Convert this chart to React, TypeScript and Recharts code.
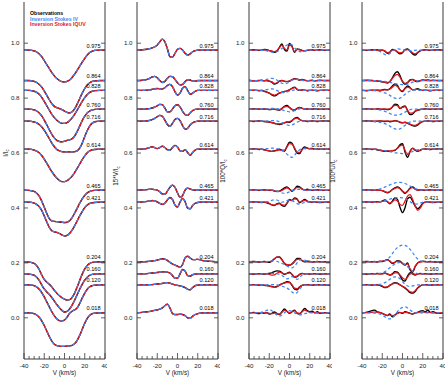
import { LineChart, Line, XAxis, YAxis, ReferenceDot } from 'recharts';

// velocity grid (km/s)
const VELOCITY = [
  -40, -35, -30, -27.5,
  -25, -22.5, -20, -17.5, -15, -12.5, -10, -7.5, -5, -2.5,
  0,
  2.5, 5, 7.5, 10, 12.5, 15, 17.5, 20, 22.5, 25,
  27.5, 30, 35, 40,
];

const PHASES = [0.975, 0.864, 0.828, 0.76, 0.716, 0.614, 0.465, 0.421, 0.204, 0.16, 0.12, 0.018];
const PHASE_LABELS = ['0.975', '0.864', '0.828', '0.760', '0.716', '0.614', '0.465', '0.421', '0.204', '0.160', '0.120', '0.018'];

const X_TICKS = [-40, -35, -30, -25, -20, -15, -10, -5, 0, 5, 10, 15, 20, 25, 30, 35, 40];
const Y_TICKS = [0, 0.2, 0.4, 0.6, 0.8, 1.0];

// profiles, in thousandths of axis units, relative to the phase offset
const I_OBS = [
  [0, 0, -3, -7, -14, -24, -38, -53, -68, -82, -94, -104, -111, -115, -116, -114, -109, -100, -88, -74, -59, -44, -30, -18, -9, -4, -1, 0, 0],
  [0, 0, -3, -7, -14, -24, -38, -54, -70, -84, -94, -99, -102, -106, -111, -116, -118, -114, -103, -86, -66, -46, -29, -16, -8, -3, -1, 0, 0],
  [0, 0, -3, -7, -14, -25, -40, -56, -72, -87, -99, -109, -116, -120, -120, -117, -110, -100, -87, -72, -56, -40, -26, -15, -7, -3, -1, 0, 0],
  [0, 0, -3, -7, -14, -25, -40, -57, -75, -92, -105, -114, -118, -119, -117, -114, -112, -108, -98, -82, -62, -42, -26, -14, -7, -3, -1, 0, 0],
  [0, 0, -3, -6, -12, -21, -33, -48, -64, -80, -93, -103, -108, -111, -112, -112, -112, -112, -111, -108, -98, -80, -56, -34, -17, -7, -2, 0, 0],
  [0, 0, -3, -7, -13, -23, -36, -51, -67, -82, -95, -106, -114, -118, -118, -115, -108, -98, -85, -70, -54, -38, -24, -13, -6, -2, -1, 0, 0],
  [0, -1, -5, -11, -22, -40, -62, -85, -104, -112, -114, -115, -116, -117, -118, -117, -112, -100, -84, -66, -48, -32, -19, -10, -5, -2, -1, 0, 0],
  [0, 0, -3, -8, -16, -30, -50, -72, -92, -104, -108, -110, -114, -119, -123, -121, -114, -102, -86, -68, -50, -34, -20, -10, -4, -2, -1, 0, 0],
  [0, -1, -6, -14, -28, -48, -64, -74, -82, -92, -104, -115, -124, -131, -136, -139, -138, -130, -114, -92, -68, -45, -26, -13, -6, -2, -1, 0, 0],
  [0, -1, -5, -12, -24, -40, -55, -66, -75, -86, -99, -112, -124, -133, -139, -137, -128, -114, -96, -76, -56, -38, -23, -12, -5, -2, -1, 0, 0],
  [0, 0, -3, -8, -16, -28, -44, -62, -80, -98, -113, -124, -130, -131, -128, -118, -104, -96, -91, -84, -68, -48, -30, -16, -7, -3, -1, 0, 0],
  [0, 0, -3, -8, -16, -29, -46, -66, -86, -103, -114, -119, -121, -122, -122, -121, -120, -118, -112, -100, -82, -60, -38, -20, -9, -3, -1, 0, 0],
];

const V_OBS = [
  [0, 1, 3, 5, 8, 12, 18, 30, 40, 30, 5, -24, -26, -12, 3, 6, 0, -12, -18, -14, -6, -2, 0, 0, 0, 0, 0, 0, 0],
  [0, 1, 4, 8, 13, 15, 10, 0, -7, -3, 8, 15, 14, 4, -8, -16, -14, -4, 3, 2, -2, -2, 0, 0, 0, 0, 0, 0, 0],
  [0, 0, 1, 2, 4, 6, 7, 6, 5, 10, 18, 22, 14, -5, -17, -10, 8, 14, 0, -14, -10, -3, 0, 0, 0, 0, 0, 0, 0],
  [0, 0, 1, 2, 4, 7, 12, 17, 16, 4, -10, -10, 0, 12, 16, 8, -8, -20, -23, -14, -5, -1, 0, 0, 0, 0, 0, 0, 0],
  [0, 0, 1, 3, 6, 10, 16, 21, 18, 4, -12, -19, -8, 6, 10, 2, -16, -29, -26, -14, -6, -2, 0, 0, 0, 0, 0, 0, 0],
  [0, 0, 3, 6, 9, 6, 2, 6, 11, 6, -2, -4, 6, 14, 8, -6, -8, -2, -12, -22, -12, -3, 0, 0, 0, 0, 0, 0, 0],
  [0, 1, 2, 3, 3, 2, 0, -6, -14, -15, -4, 10, 18, 10, -10, -26, -20, 0, 7, 4, 1, 0, 0, 0, 0, 0, 0, 0, 0],
  [0, 1, 3, 4, 6, 5, 1, -4, -8, -4, 8, 17, 10, -10, -18, 0, 14, 2, -22, -24, -12, -4, -1, 0, 0, 0, 0, 0, 0],
  [0, 0, 1, 2, 3, 4, 6, 9, 11, 10, 5, -2, -8, -12, -16, -20, -10, 14, 20, 14, 8, 8, 9, 7, 4, 3, 2, 1, 0],
  [0, 0, 1, 2, 3, 4, 5, 6, 7, 7, 6, 3, -6, -16, -16, 0, 16, 10, -6, -8, -3, -1, 0, 0, 0, 0, 0, 0, 0],
  [0, 0, 0, 1, 1, 2, 3, 4, 5, 7, 8, 6, 3, 0, -2, -4, -6, -10, -16, -18, -10, -3, -1, 0, 0, 0, 0, 0, 0],
  [0, 2, 4, 5, 7, 9, 11, 14, 18, 26, 32, 18, -2, -6, -6, -5, -6, -10, -18, -20, -12, -6, -3, -1, 0, 0, 0, 0, 0],
];

const Q_OBS = [
  [0, 1, -1, 0, 2, 1, -2, -4, -8, -4, 10, 22, 2, -4, 24, 14, -8, 4, 2, -2, -3, -1, 0, 1, -1, 0, 1, -1, 0],
  [1, -1, 0, 1, -1, 0, -2, -6, -13, -10, -2, 0, -3, -4, -2, 3, 7, 5, 2, 4, 1, -1, 0, 1, -1, 0, 1, 0, 0],
  [0, 1, -1, 0, -3, -6, -10, -16, -20, -16, -10, -7, -4, -2, 2, 8, 12, 4, 0, 2, 1, -1, 0, 1, 0, -1, 0, 1, 0],
  [0, 1, 0, -1, 1, 0, -2, -1, 0, -2, -4, 2, 10, 13, 6, -2, -4, 3, 6, 3, 0, 1, -1, 0, 1, 0, -1, 0, 0],
  [0, -1, 1, 0, -1, -2, -3, -5, -8, -10, -12, -10, -6, -3, -4, 2, 10, 14, 6, 2, 1, -1, 0, 1, 0, -1, 0, 1, 0],
  [0, 1, -1, 0, -2, -4, -6, -8, -6, -3, 0, -4, -8, 10, 26, 22, 2, -14, -16, 0, 8, 4, 2, 3, 0, 1, 0, 0, 1],
  [0, 1, -1, 0, 1, 0, -1, 0, -3, -5, -4, 2, 8, 12, 4, -4, 4, 14, 12, 4, 1, 3, 1, -1, 0, 1, 0, -1, 0],
  [0, 1, 0, -1, 0, -2, -5, -10, -12, -6, -4, -12, -15, -4, 10, 6, 16, 12, -2, 4, 10, 4, 1, 0, 1, 0, -1, 0, 0],
  [0, 1, -1, 0, 1, 0, -2, 2, 10, 17, 18, 8, -6, -12, -12, -8, 2, 12, 12, 4, 0, 2, 1, -1, 0, 1, 0, 0, -1],
  [0, -1, 1, 0, -1, 0, 2, 4, 8, 11, 10, 4, -2, 2, 6, -2, -12, -10, -2, 2, 0, 1, -1, 0, 1, 0, -1, 0, 0],
  [0, 1, -1, 0, -2, -3, -4, -6, -8, -6, -1, 4, 8, 12, 10, -2, -16, -18, -8, -2, 0, 1, 0, -1, 0, 1, 0, 0, -2],
  [0, 2, -3, 2, -2, 1, -4, -2, 3, -2, -6, 4, 14, 6, -2, 4, 10, -2, -4, 6, 16, 8, 4, 6, 0, 4, -2, 1, -3],
];

const Q_IQUV = [
  [0, 0, 0, 0, 1, 0, -2, -4, -6, -2, 8, 18, 6, 0, 18, 12, -6, 2, 2, -1, -2, -1, 0, 0, 0, 0, 0, 0, 0],
  [0, 0, 0, 0, 0, 0, -2, -5, -10, -8, -3, 0, -2, -3, -1, 3, 6, 5, 3, 2, 1, 0, 0, 0, 0, 0, 0, 0, 0],
  [0, 0, 0, -1, -3, -6, -10, -14, -17, -14, -9, -6, -4, -2, 2, 7, 10, 5, 1, 1, 0, 0, 0, 0, 0, 0, 0, 0, 0],
  [0, 0, 0, 0, 0, 0, -1, -1, -1, -2, -2, 2, 8, 10, 5, -1, -2, 2, 5, 3, 1, 0, 0, 0, 0, 0, 0, 0, 0],
  [0, 0, 0, 0, -1, -2, -3, -5, -7, -9, -10, -8, -5, -3, -2, 3, 9, 11, 6, 2, 1, 0, 0, 0, 0, 0, 0, 0, 0],
  [0, 0, 0, 0, -2, -4, -6, -8, -7, -5, -3, -3, -3, 8, 20, 18, 4, -10, -12, -2, 5, 4, 2, 1, 0, 0, 0, 0, 0],
  [0, 0, 0, 0, 0, 0, 0, 0, -3, -5, -5, -1, 4, 8, 3, -2, 3, 10, 9, 4, 1, 0, 0, 0, 0, 0, 0, 0, 0],
  [0, 0, 0, 0, 0, -1, -4, -9, -11, -7, -5, -9, -11, -3, 7, 6, 12, 10, 0, 4, 7, 3, 1, 0, 0, 0, 0, 0, 0],
  [0, 0, 0, 0, 0, 0, 1, 4, 11, 17, 16, 7, -5, -10, -11, -7, 1, 9, 10, 4, 1, 0, 0, 0, 0, 0, 0, 0, 0],
  [0, 0, 0, 0, 0, 0, -2, -5, -4, 2, 6, 4, 0, 2, 4, -2, -10, -8, -2, 1, 0, 0, 0, 0, 0, 0, 0, 0, 0],
  [0, 0, 0, 0, -1, -2, -4, -7, -9, -7, -2, 3, 6, 9, 8, 0, -12, -14, -7, -2, 0, 0, 0, 0, 0, 0, 0, 0, 0],
  [0, 0, 0, 0, 0, 0, -2, -3, -1, -3, -5, 2, 9, 5, 0, 4, 7, 0, -2, 4, 10, 6, 3, 2, 1, 0, 0, 0, 0],
];

const Q_IV = [
  [0, 0, 0, -1, -2, -3, -5, -8, -9, -6, 0, 6, 12, 18, 22, 18, 8, -2, -6, -5, -3, -1, 0, 0, 0, 0, 0, 0, 0],
  [0, 0, 0, 1, 2, 4, 6, 8, 7, 2, -5, -10, -12, -10, -5, 1, 4, 5, 3, 1, 0, 0, 0, 0, 0, 0, 0, 0, 0],
  [0, 0, 0, 1, 2, 3, 5, 6, 4, 0, -4, -7, -8, -6, -3, 0, 2, 3, 2, 1, 0, 0, 0, 0, 0, 0, 0, 0, 0],
  [0, 0, 0, 0, 1, 1, 2, 3, 3, 2, 0, -3, -6, -8, -10, -9, -6, -2, 1, 2, 1, 0, 0, 0, 0, 0, 0, 0, 0],
  [0, 0, 0, 0, 0, 1, 1, 2, 2, 1, -2, -5, -9, -13, -16, -14, -9, -4, -1, 0, 0, 0, 0, 0, 0, 0, 0, 0, 0],
  [0, 0, 0, 0, 1, 2, 3, 4, 4, 2, 0, -4, -10, -18, -26, -30, -22, -10, -2, 2, 2, 1, 0, 0, 0, 0, 0, 0, 0],
  [0, 0, 0, 0, 0, 1, 1, 1, 0, -3, -7, -10, -12, -10, -6, -2, 1, 3, 3, 1, 0, 0, 0, 0, 0, 0, 0, 0, 0],
  [0, 0, 0, 0, 1, 2, 4, 7, 9, 8, 4, 0, 2, 6, 8, 6, 0, -5, -7, -4, -1, 0, 0, 0, 0, 0, 0, 0, 0],
  [0, 0, 0, 0, 0, 1, 2, 3, 4, 2, -2, -6, -10, -15, -20, -22, -16, -4, 6, 9, 6, 2, 0, 0, 0, 0, 0, 0, 0],
  [0, 0, 0, 0, 0, 0, 1, 2, 2, 1, -2, -6, -12, -18, -16, -10, -14, -20, -14, -4, 0, 0, 0, 0, 0, 0, 0, 0, 0],
  [0, 0, 0, 0, 0, 0, 1, 1, 1, 0, -2, -5, -8, -12, -18, -26, -32, -28, -16, -6, -1, 0, 0, 0, 0, 0, 0, 0, 0],
  [0, 0, 1, 2, 5, 9, 12, 8, 0, -8, -12, -8, 0, 6, 8, 5, 0, -4, -7, -6, -3, -1, 0, 0, 0, 0, 0, 0, 0],
];

const U_OBS = [
  [0, -1, 1, 0, 1, -1, 0, -4, -12, -8, 2, 0, -8, -14, -10, 2, 4, -4, -14, -18, -10, -3, 0, 1, 0, -1, 0, 1, 0],
  [0, 1, 0, -1, -2, -3, -5, -7, -9, -4, 10, 26, 32, 18, -4, -14, -8, 2, 4, -2, -4, 0, 2, 1, 2, 0, 1, 0, 0],
  [0, -1, 1, 0, 1, 0, 2, 4, 2, 6, 16, 24, 18, 2, -4, 8, 16, 10, 2, 4, 6, 2, 0, 1, 0, -1, 0, 1, 0],
  [0, 1, 0, -1, 1, 0, -1, 0, -2, 0, 8, 18, 16, 2, 8, 12, -6, -20, -18, -8, -4, -2, 0, 1, 0, -1, 0, 0, 1],
  [0, 1, 0, -1, 0, 1, 0, -1, 0, -2, -1, 2, 0, -4, -6, -4, -8, -12, -16, -18, -14, -6, -2, 0, 1, 0, -1, 0, 0],
  [0, 1, -1, 0, -2, -4, -6, -8, -7, -8, -6, -4, 4, 16, 20, -10, -30, -8, 4, -4, -8, -4, 0, 1, 0, -1, 0, 1, 0],
  [0, 1, 0, -1, 1, 0, -2, -6, -10, -6, 2, 8, 12, 6, -4, -12, -4, 8, 12, 4, 0, 1, 0, -1, 0, 1, 0, 0, 0],
  [0, 1, 0, 1, 2, 1, 4, 8, 2, -6, 4, 16, 10, -18, -38, -20, 12, 18, 4, -14, -24, -16, -4, 0, 1, 0, -1, 0, 0],
  [0, 1, 0, 1, -1, 2, 1, 4, 8, 2, -6, -2, 4, 2, -6, -12, -4, -30, -38, -18, -4, 0, 2, 1, 0, 1, 0, -1, 0],
  [0, -1, 1, 0, 2, 0, 1, 3, 0, -4, 0, 8, 6, -6, -22, -26, -8, 4, 0, -4, 0, 2, 0, 1, 0, -1, 0, 1, 0],
  [0, 1, -1, 1, 0, -2, -6, -10, -8, -2, 4, 8, 6, 0, -6, -12, -20, -28, -30, -24, -12, -4, 0, 1, 0, -1, 0, 0, 1],
  [0, 3, 8, 10, 4, 2, -2, -6, -10, -4, -14, -8, 0, 2, -2, 4, 2, -2, -4, 0, 2, 6, 8, 4, 10, 2, 4, -2, 0],
];

const U_IQUV = [
  [0, 0, 0, 0, 0, 0, 0, -3, -9, -7, 0, -1, -6, -10, -8, 0, 2, -3, -10, -14, -8, -2, 0, 0, 0, 0, 0, 0, 0],
  [0, 0, 0, 0, -1, -2, -4, -6, -7, -3, 8, 18, 22, 12, -3, -10, -7, 0, 3, 0, -2, 0, 1, 0, 0, 0, 0, 0, 0],
  [0, 0, 0, 0, 0, 0, 1, 2, 2, 5, 12, 18, 14, 3, -2, 6, 12, 8, 3, 3, 4, 1, 0, 0, 0, 0, 0, 0, 0],
  [0, 0, 0, 0, 0, 0, 0, 0, 0, 1, 7, 14, 13, 3, 6, 9, -4, -15, -14, -7, -3, -1, 0, 0, 0, 0, 0, 0, 0],
  [0, 0, 0, 0, 0, 0, 0, 0, 0, 0, 0, 1, 0, -3, -5, -4, -7, -11, -14, -15, -11, -5, -1, 0, 0, 0, 0, 0, 0],
  [0, 0, 0, 0, -1, -3, -5, -6, -6, -6, -5, -3, 3, 12, 15, -4, -20, -8, 3, -2, -6, -3, 0, 0, 0, 0, 0, 0, 0],
  [0, 0, 0, 0, 0, 0, -2, -5, -8, -5, 1, 6, 9, 5, -3, -9, -3, 6, 9, 3, 0, 0, 0, 0, 0, 0, 0, 0, 0],
  [0, 0, 0, 0, 1, 1, 3, 5, 2, -3, 2, 8, 4, -8, -12, 4, 22, 28, 10, -14, -30, -22, -6, 0, 0, 0, 0, 0, 0],
  [0, 0, 0, 0, 0, 1, 2, 4, 7, 3, -4, -2, 2, 0, -6, -10, -8, -26, -34, -16, -4, 0, 1, 0, 0, 0, 0, 0, 0],
  [0, 0, 0, 0, 0, 0, 0, 2, 0, -4, -2, 4, 4, -4, -14, -20, -12, 0, 2, -2, 0, 0, 0, 0, 0, 0, 0, 0, 0],
  [0, 0, 0, 0, 0, -1, -4, -8, -7, -2, 3, 6, 4, 0, -5, -10, -18, -25, -27, -21, -10, -3, 0, 0, 0, 0, 0, 0, 0],
  [0, 1, 2, 3, 2, 1, -2, -6, -9, -7, -10, -8, -2, 1, 0, 2, 1, -2, -3, 0, 2, 3, 3, 2, 2, 1, 0, 0, 0],
];

const U_IV = [
  [0, 0, 0, -1, -2, -5, -10, -16, -18, -12, -4, 2, 4, 3, 1, 0, -1, -2, -2, -1, 0, 0, 0, 0, 0, 0, 0, 0, 0],
  [0, 0, 0, 0, 0, -1, -2, -3, -5, -7, -9, -11, -13, -14, -15, -15, -13, -10, -6, -3, -1, 0, 0, 0, 0, 0, 0, 0, 0],
  [0, 0, 0, -1, -2, -4, -6, -9, -13, -18, -24, -28, -30, -28, -22, -14, -7, -2, 1, 1, 0, 0, 0, 0, 0, 0, 0, 0, 0],
  [0, 0, 0, -1, -2, -3, -5, -8, -12, -16, -20, -22, -22, -20, -16, -11, -6, -2, 0, 0, 0, 0, 0, 0, 0, 0, 0, 0, 0],
  [0, 0, 0, -1, -2, -4, -6, -9, -13, -18, -24, -28, -30, -28, -22, -15, -8, -3, 0, 0, 0, 0, 0, 0, 0, 0, 0, 0, 0],
  [0, 0, 0, 0, -1, -2, -3, -5, -7, -9, -11, -13, -14, -15, -16, -16, -15, -12, -8, -4, -2, -1, 0, 0, 0, 0, 0, 0, 0],
  [0, 0, 0, 1, 2, 4, 7, 11, 15, 19, 23, 26, 28, 28, 27, 24, 20, 15, 10, 6, 3, 1, 0, 0, 0, 0, 0, 0, 0],
  [0, 0, 0, 0, 1, 2, 3, 5, 8, 11, 14, 16, 17, 17, 16, 13, 8, 2, -4, -7, -6, -3, -1, 0, 0, 0, 0, 0, 0],
  [0, 0, 0, 0, 0, 0, 1, 3, 8, 18, 30, 42, 52, 58, 61, 60, 55, 45, 33, 20, 10, 4, 1, 0, 0, 0, 0, 0, 0],
  [0, 0, 0, 0, 1, 2, 4, 8, 14, 22, 30, 36, 40, 42, 40, 34, 26, 18, 10, 4, 1, 0, 0, 0, 0, 0, 0, 0, 0],
  [0, 0, 0, 0, 1, 2, 4, 8, 14, 20, 26, 29, 28, 22, 12, 2, -4, -6, -4, -2, 0, 0, 0, 0, 0, 0, 0, 0, 0],
  [0, 0, 0, -1, -2, -4, -8, -14, -20, -22, -18, -8, 4, 14, 20, 22, 18, 10, 4, 1, 0, 0, 0, 0, 0, 0, 0, 0, 0],
];

const AXIS = '#3a3a3a';
const FONT = '"Liberation Sans", Arial, Helvetica, sans-serif';
const BLACK = '#000000';
const RED = '#e3151c';
const BLUE = '#3b86f7';

function buildRows(obs: number[][], iv: number[][], iquv: number[][]) {
  return VELOCITY.map((v, k) => {
    const row: Record<string, number> = { v };
    PHASES.forEach((p, j) => {
      row[`o${j}`] = p + obs[j][k] / 1000;
      row[`b${j}`] = p + iv[j][k] / 1000;
      row[`r${j}`] = p + iquv[j][k] / 1000;
    });
    return row;
  });
}

function BottomTick(props: any) {
  const { x, y, payload } = props;
  const major = payload.value % 20 === 0;
  return (
    <g>
      <line x1={x} x2={x} y1={y} y2={y - (major ? 6 : 3)} stroke={AXIS} strokeWidth={0.8} />
      {major && (
        <text x={x} y={y + 8.5} textAnchor="middle" fontSize={6.2} fontFamily={FONT} fill="#222">
          {payload.value}
        </text>
      )}
    </g>
  );
}

function TopTick(props: any) {
  const { x, y, payload } = props;
  const major = payload.value % 20 === 0;
  return <line x1={x} x2={x} y1={y} y2={y + (major ? 6 : 3)} stroke={AXIS} strokeWidth={0.8} />;
}

function LeftTick(props: any) {
  const { x, y, payload } = props;
  return (
    <g>
      <line x1={x} x2={x + 4} y1={y} y2={y} stroke={AXIS} strokeWidth={0.8} />
      <text x={x - 4.5} y={y + 2.2} textAnchor="end" fontSize={6.2} fontFamily={FONT} fill="#222">
        {Number(payload.value).toFixed(1)}
      </text>
    </g>
  );
}

function RightTick(props: any) {
  const { x, y } = props;
  return <line x1={x} x2={x - 4} y1={y} y2={y} stroke={AXIS} strokeWidth={0.8} />;
}

type PanelProps = {
  left: number;
  obs: number[][];
  iv: number[][];
  iquv: number[][];
};

function Panel({ left, obs, iv, iquv }: PanelProps) {
  const rows = buildRows(obs, iv, iquv);
  return (
    <div style={{ position: 'absolute', left: left - 30, top: 0 }}>
      <LineChart width={113} height={379} data={rows} margin={{ top: 2, right: 1, bottom: 0, left: 0 }}>
        <XAxis
          dataKey="v"
          type="number"
          domain={[-40, 40]}
          ticks={X_TICKS}
          interval={0}
          height={20}
          tickSize={0}
          tickMargin={0}
          tickLine={false}
          axisLine={{ stroke: AXIS }}
          tick={(p: any) => <BottomTick {...p} />}
          allowDataOverflow
        />
        <XAxis
          xAxisId="top"
          orientation="top"
          dataKey="v"
          type="number"
          domain={[-40, 40]}
          ticks={X_TICKS}
          interval={0}
          height={0}
          tickSize={0}
          tickMargin={0}
          tickLine={false}
          axisLine={{ stroke: AXIS }}
          tick={(p: any) => <TopTick {...p} />}
          allowDataOverflow
        />
        <YAxis
          type="number"
          domain={[-0.15, 1.15]}
          ticks={Y_TICKS}
          interval={0}
          width={30}
          tickSize={0}
          tickMargin={0}
          tickLine={false}
          axisLine={{ stroke: AXIS }}
          tick={(p: any) => <LeftTick {...p} />}
          allowDataOverflow
        />
        <YAxis
          yAxisId="right"
          orientation="right"
          type="number"
          domain={[-0.15, 1.15]}
          ticks={Y_TICKS}
          interval={0}
          width={1}
          tickSize={0}
          tickMargin={0}
          tickLine={false}
          axisLine={{ stroke: AXIS }}
          tick={(p: any) => <RightTick {...p} />}
          allowDataOverflow
        />
        {PHASES.map((_, j) => (
          <Line key={`o${j}`} dataKey={`o${j}`} type="monotone" stroke={BLACK} strokeWidth={1.35}
            dot={false} activeDot={false} isAnimationActive={false} />
        ))}
        {PHASES.map((_, j) => (
          <Line key={`r${j}`} dataKey={`r${j}`} type="monotone" stroke={RED} strokeWidth={1.25}
            dot={false} activeDot={false} isAnimationActive={false} />
        ))}
        {PHASES.map((_, j) => (
          <Line key={`b${j}`} dataKey={`b${j}`} type="monotone" stroke={BLUE} strokeWidth={1.25}
            strokeDasharray="3 2.5" dot={false} activeDot={false} isAnimationActive={false} />
        ))}
        {PHASES.map((p, j) => (
          <ReferenceDot
            key={`l${j}`}
            x={40}
            y={p}
            r={0}
            ifOverflow="visible"
            shape={(s: any) => (
              <text x={s.cx - 4.5} y={s.cy - 2.5} textAnchor="end" fontSize={5.6} fontFamily={FONT} fill="#000">
                {PHASE_LABELS[j]}
              </text>
            )}
          />
        ))}
      </LineChart>
    </div>
  );
}

function YTitle({ x, y, main }: { x: number; y: number; main: string }) {
  return (
    <text transform={`translate(${x},${y}) rotate(-90)`} textAnchor="middle" fontSize={6.3} fontFamily={FONT} fill="#222">
      {main}
      <tspan fontSize={4.5} dy={1.5}>c</tspan>
    </text>
  );
}

export default function App() {
  const panelLefts = [24, 137, 249, 362];
  return (
    <div style={{ position: 'absolute', left: 0, top: 0, width: 445, height: 379, background: '#fff', overflow: 'hidden' }}>
      <Panel left={panelLefts[0]} obs={I_OBS} iv={I_OBS} iquv={I_OBS} />
      <Panel left={panelLefts[1]} obs={V_OBS} iv={V_OBS} iquv={V_OBS} />
      <Panel left={panelLefts[2]} obs={Q_OBS} iv={Q_IV} iquv={Q_IQUV} />
      <Panel left={panelLefts[3]} obs={U_OBS} iv={U_IV} iquv={U_IQUV} />
      <svg width={445} height={379} style={{ position: 'absolute', left: 0, top: 0, pointerEvents: 'none' }}>
        <YTitle x={7.5} y={153} main="I/I" />
        <YTitle x={118} y={176} main="15*V/I" />
        <YTitle x={225} y={171} main="100*Q/I" />
        <YTitle x={335} y={171} main="100*U/I" />
        {panelLefts.map((l) => (
          <text key={l} x={l + 40.5} y={374.5} textAnchor="middle" fontSize={6.3} fontFamily={FONT} fill="#222">
            V (km/s)
          </text>
        ))}
        <text x={30} y={15} fontSize={5.2} fontWeight="bold" fontFamily={FONT} fill={BLACK}>Observations</text>
        <text x={30} y={20.5} fontSize={5.2} fontWeight="bold" fontFamily={FONT} fill={BLUE}>Inversion Stokes IV</text>
        <text x={30} y={26} fontSize={5.2} fontWeight="bold" fontFamily={FONT} fill={RED}>Inversion Stokes IQUV</text>
      </svg>
    </div>
  );
}
